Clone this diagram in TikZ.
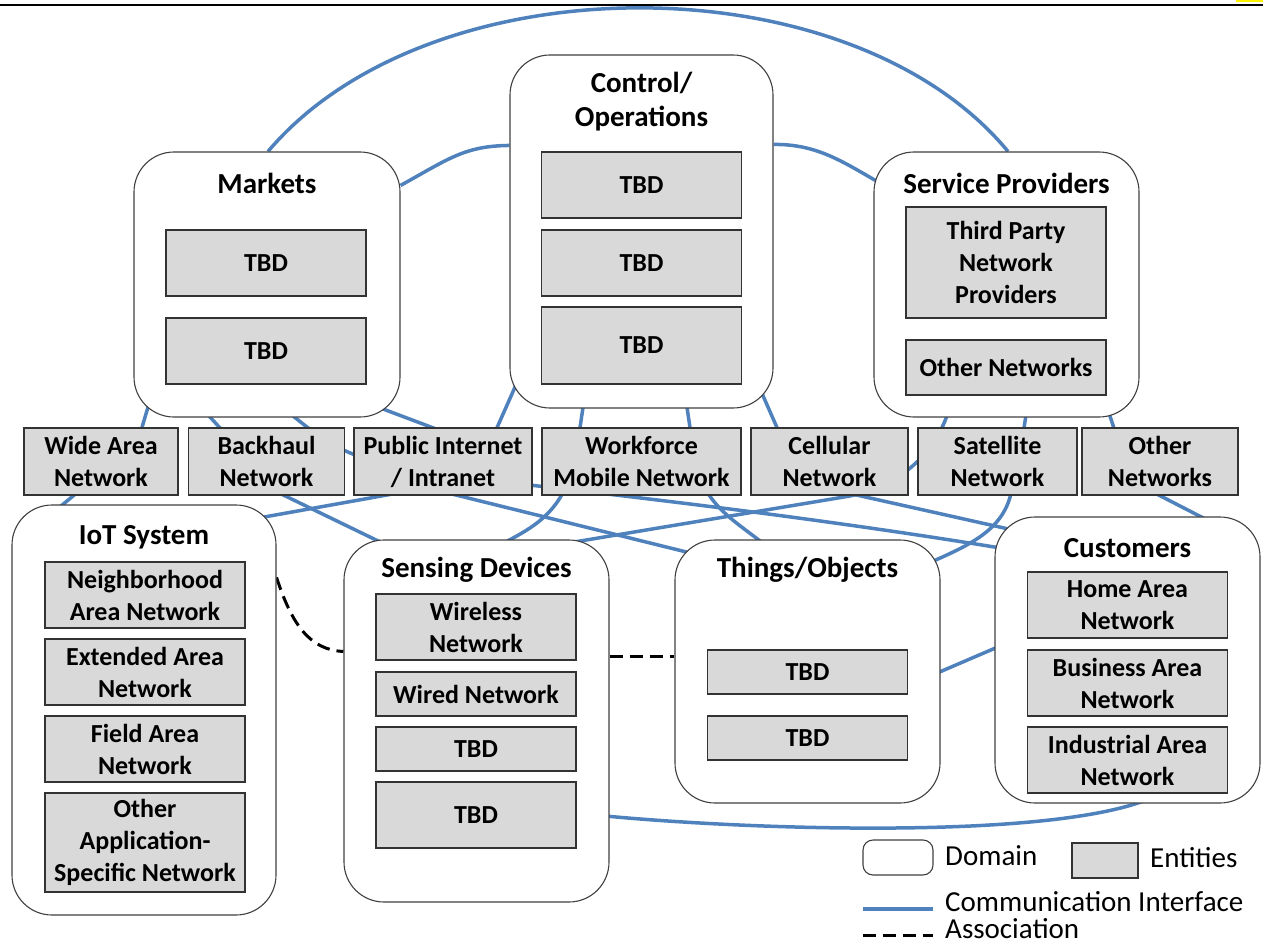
\documentclass[tikz,border=0pt]{standalone}
\usepackage{fontspec}
\setmainfont{Carlito}
\usetikzlibrary{backgrounds}

\definecolor{linkblue}{RGB}{79,129,189}
\definecolor{entgray}{RGB}{217,217,217}

\tikzset{
  domainbox/.style={draw=black!75, line width=1.1pt, fill=white, rounded corners=40pt, inner sep=0pt},
  entity/.style={draw=black!80, line width=1.1pt, fill=entgray, minimum width=200pt, inner sep=0pt,
    align=center, font=\bfseries\fontsize{26}{32}\selectfont},
  domtitle/.style={align=center, inner sep=0pt, font=\bfseries\fontsize{29}{34}\selectfont},
  link/.style={draw=linkblue, line width=3.5pt},
  assoc/.style={draw=black, line width=3pt, dash pattern=on 13pt off 7pt},
  keytext/.style={anchor=west, inner sep=0pt, font=\fontsize{29}{30}\selectfont},
}

\begin{document}
\begin{tikzpicture}[x=1pt, y=-1pt]
    \useasboundingbox (0,0) rectangle (1263,944);
    \draw[line width=2pt] (0,5.5) -- (1263,5.5);
    \fill[yellow] (1236,0) rectangle (1263,2);

    % domains
    \node[domainbox, minimum width=266pt, minimum height=265pt] (mk) at (267,284.5) {};
    \node[domainbox, minimum width=263pt, minimum height=353pt] (ctl) at (641.5,231.5) {};
    \node[domainbox, minimum width=265pt, minimum height=265pt] (sp) at (1006.5,284.5) {};
    \node[domainbox, minimum width=264pt, minimum height=410pt] (iot) at (144,710) {};
    \node[domainbox, minimum width=265pt, minimum height=362pt] (sd) at (476.5,721) {};
    \node[domainbox, minimum width=265pt, minimum height=263pt] (th) at (807.5,671.5) {};
    \node[domainbox, minimum width=265pt, minimum height=286pt] (cu) at (1127.5,660) {};

    \node[domtitle] (mk-t) at (267,183) {Markets};
    \node[domtitle] (ctl-t) at (641.5,102) {Control/\\Operations};
    \node[domtitle] (sp-t) at (1006.5,183) {Service Providers};
    \node[domtitle] (iot-t) at (144,537) {IoT System};
    \node[domtitle] (sd-t) at (476.5,570) {Sensing Devices};
    \node[domtitle] (th-t) at (807.5,570) {Things/Objects};
    \node[domtitle] (cu-t) at (1127.5,548) {Customers};

    % entities inside the domains
    \node[entity, minimum height=66pt] (mk1) at (266,263) {TBD};
    \node[entity, minimum height=66pt] (mk2) at (266,351) {TBD};

    \node[entity, minimum height=66pt] (ctl1) at (641.5,185) {TBD};
    \node[entity, minimum height=66pt] (ctl2) at (641.5,263) {TBD};
    \node[entity, minimum height=77pt] (ctl3) at (641.5,345.5) {TBD};

    \node[entity, minimum height=111pt] (sp1) at (1006,262.5) {Third Party\\Network\\Providers};
    \node[entity, minimum height=55pt] (sp2) at (1006,367.5) {Other Networks};

    \node[entity, minimum height=66pt] (nan) at (145,595) {Neighborhood\\Area Network};
    \node[entity, minimum height=66pt] (ean) at (145,672) {Extended Area\\Network};
    \node[entity, minimum height=66pt] (fan) at (145,749) {Field Area\\Network};
    \node[entity, minimum height=99pt] (oasn) at (145,842.5) {Other\\Application-\\Specific Network};

    \node[entity, minimum height=66pt] (wl) at (476,627) {Wireless\\Network};
    \node[entity, minimum height=44pt] (wd) at (476,694) {Wired Network};
    \node[entity, minimum height=44pt] (sd3) at (476,749) {TBD};
    \node[entity, minimum height=66pt] (sd4) at (476,815) {TBD};

    \node[entity, minimum height=44pt] (th1) at (807.5,672) {TBD};
    \node[entity, minimum height=44pt] (th2) at (807.5,738) {TBD};

    \node[entity, minimum height=66pt] (han) at (1127.5,605) {Home Area\\Network};
    \node[entity, minimum height=66pt] (ban) at (1127.5,683) {Business Area\\Network};
    \node[entity, minimum height=66pt] (ian) at (1127.5,760) {Industrial Area\\Network};

    % networks between the domains
    \node[entity, minimum width=154pt, minimum height=67pt] (wan) at (101,461.5) {Wide Area\\Network};
    \node[entity, minimum width=156pt, minimum height=67pt] (bh) at (266.5,461.5) {Backhaul\\Network};
    \node[entity, minimum width=178pt, minimum height=67pt] (pi) at (443,461.5) {Public Internet\\/ Intranet};
    \node[entity, minimum width=199pt, minimum height=67pt] (wf) at (641.5,461.5) {Workforce\\Mobile Network};
    \node[entity, minimum width=157pt, minimum height=67pt] (cel) at (829.5,461.5) {Cellular\\Network};
    \node[entity, minimum width=159pt, minimum height=67pt] (sat) at (997.5,461.5) {Satellite\\Network};
    \node[entity, minimum width=156pt, minimum height=67pt] (oth) at (1160,461.5) {Other\\Networks};

    % communication interfaces, behind the boxes
    \begin{scope}[on background layer]
        \draw[link] ([shift={(1,0)}]mk.north) .. controls (430,-40) and (850,-40) .. ([shift={(1.5,0)}]sp.north);
        \draw[link] ([shift={(0,34)}]mk.north east) .. controls (450,158) and (465,146) .. ([shift={(0,91)}]ctl.north west);
        \draw[link] ([shift={(0,90)}]ctl.north east) .. controls (815,144) and (840,160) .. ([shift={(2,29)}]sp.north west);

        \draw[link] ([shift={(18,-22)}]mk.south west) -- ([shift={(38,10)}]wan.north);
        \draw[link] ([shift={(-19,-7)}]wan.south) -- ([shift={(43,7)}]iot.north west);
        \draw[link] ([shift={(66,-12)}]mk.south west) -- ([shift={(-40.5,7)}]bh.north);
        \draw[link] ([shift={(3.5,-7)}]bh.south) -- ([shift={(48,8)}]sd.north west);
        \draw[link] ([shift={(13,-12)}]mk.south) .. controls (330,445) and (340,460) .. (450,476)
            .. controls (600,493) and (800,515) .. ([shift={(15,33)}]cu.north west);
        \draw[link] ([shift={(-40,-17)}]mk.south east) -- ([shift={(-3,3)}]pi.north);
        \draw[link] ([shift={(3,-3)}]pi.south) -- ([shift={(30,17)}]th.north west);

        \draw[link] ([shift={(12,-36)}]ctl.south west) -- ([shift={(51,7)}]pi.north);
        \draw[link] ([shift={(-48,-2)}]pi.south) -- ([shift={(-26,15)}]iot.north east);
        \draw[link] ([shift={(-57.5,-8)}]ctl.south) -- ([shift={(-62.5,7)}]wf.north);
        \draw[link] ([shift={(-76.5,-7)}]wf.south) .. controls (550,520) and (525,532) .. ([shift={(18.5,8)}]sd.north);
        \draw[link] ([shift={(44.5,-8)}]ctl.south) -- ([shift={(49.5,7)}]wf.north);
        \draw[link] ([shift={(63.5,-7)}]wf.south) .. controls (720,515) and (745,528) .. ([shift={(-39.5,8)}]th.north);
        \draw[link] ([shift={(-15,-23)}]ctl.south east) -- ([shift={(-49.5,7)}]cel.north);
        \draw[link] ([shift={(20.5,-2)}]cel.south) -- ([shift={(25,15)}]cu.north west);

        \draw[link] ([shift={(76,-9)}]sp.south west) .. controls (935,455) and (900,485) .. (850,496)
            -- ([shift={(-44,4)}]sd.north east);
        \draw[link] ([shift={(20.5,-9)}]sp.south) -- ([shift={(25.5,7)}]sat.north);
        \draw[link] ([shift={(14.5,-7)}]sat.south) .. controls (1005,530) and (970,545) .. ([shift={(-15,25)}]th.north east);
        \draw[link] ([shift={(-33,-12)}]sp.south east) -- ([shift={(-44,7)}]oth.north);
        \draw[link] ([shift={(-10,-5)}]oth.south) -- ([shift={(82.5,5)}]cu.north);

        \draw[link] ([shift={(-15,6.5)}]th.east) -- ([shift={(15,-18)}]cu.west);
        \draw[link] ([shift={(-9,-87)}]sd.south east) .. controls (750,830) and (1050,840) .. ([shift={(22.5,-5)}]cu.south);

        % associations
        \draw[assoc] ([shift={(0,73)}]iot.north east) .. controls (292,625) and (310,650) .. ([shift={(0,112)}]sd.north west);
        \draw[assoc] ([shift={(0,117)}]sd.north east) -- ([shift={(0,117)}]th.north west);
    \end{scope}

    % key
    \node[domainbox, rounded corners=10pt, minimum width=70pt, minimum height=35pt] (key-dom) at (898,857.5) {};
    \node[keytext] (key-dom-t) at (945,856) {Domain};
    \node[entity, minimum width=66pt, minimum height=35pt] (key-ent) at (1105,860.5) {};
    \node[keytext] (key-ent-t) at (1150,858) {Entities};
    \coordinate (key-l1) at (863,909);
    \coordinate (key-l2) at (933,909);
    \draw[link] (key-l1) -- (key-l2);
    \node[keytext] (key-link-t) at (945,902) {Communication Interface};
    \coordinate (key-a1) at (863,935);
    \coordinate (key-a2) at (933,935);
    \draw[assoc] (key-a1) -- (key-a2);
    \node[keytext] (key-assoc-t) at (945,929) {Association};
\end{tikzpicture}
\end{document}
